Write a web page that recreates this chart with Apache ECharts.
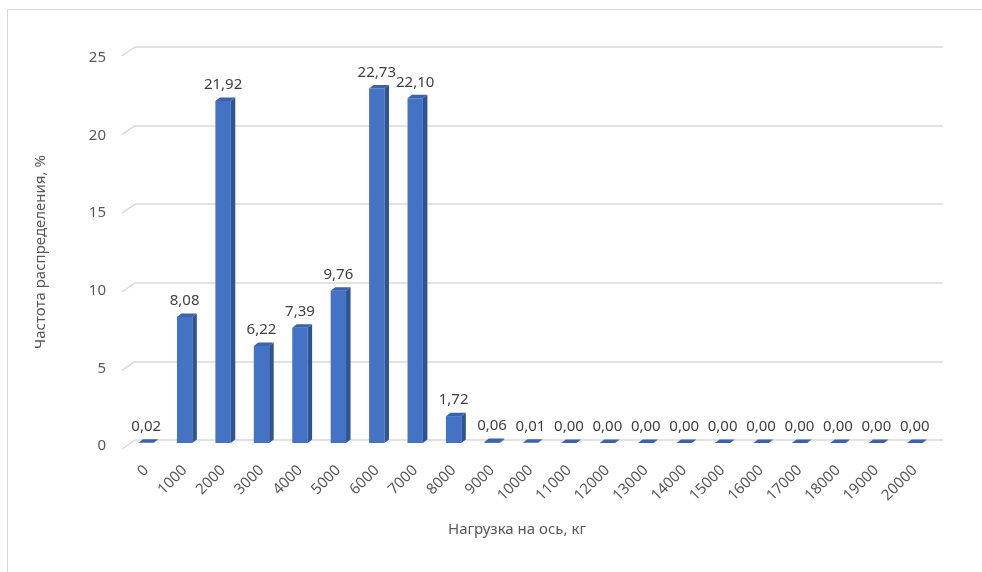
<!DOCTYPE html>
<html>
<head>
<meta charset="utf-8">
<script src="https://cdn.jsdelivr.net/npm/echarts@6/dist/echarts.min.js"></script>
<style>
  html, body { margin: 0; padding: 0; background: #fff; overflow: hidden; }
  #frame { position: absolute; left: 7px; top: 9px; width: 1100px; height: 700px; border: 1px solid #d9d9d9; }
  #chart { position: absolute; left: 0; top: 0; width: 982px; height: 572px; }
</style>
</head>
<body>
<div id="frame"></div>
<div id="chart"></div>
<script>
// нагрузка на ось, кг
const categories = ['0', '1000', '2000', '3000', '4000', '5000', '6000', '7000', '8000', '9000', '10000',
  '11000', '12000', '13000', '14000', '15000', '16000', '17000', '18000', '19000', '20000'];
// частота распределения, %
const shares = [0.02, 8.08, 21.92, 6.22, 7.39, 9.76, 22.73, 22.10, 1.72, 0.06, 0.01,
  0.00, 0.00, 0.00, 0.00, 0.00, 0.00, 0.00, 0.00, 0.00, 0.00];
const yTicks = [0, 5, 10, 15, 20, 25];

const textColor = '#595959';
const font = 'Noto Sans';

function renderBar(params, api) {
  const v = api.value(1);
  const base = api.coord([api.value(0), 0]);
  const top = api.coord([api.value(0), v]);
  const band = api.size([1, 0])[0];
  const w = band * 0.4;
  const x0 = base[0] - w / 2;
  const x1 = base[0] + w / 2;
  const yb = base[1];
  const yt = top[1];
  const dx = 4.5;
  const dy = 3.5;
  const children = [];
  if (yb - yt > 0.5) {
    children.push({
      type: 'rect',
      shape: { x: x0, y: yt, width: w, height: yb - yt },
      style: { fill: '#4472c4' }
    });
    children.push({
      type: 'polygon',
      shape: { points: [[x1, yt], [x1 + dx, yt - dy], [x1 + dx, yb - dy], [x1, yb]] },
      style: { fill: '#2f5393' }
    });
  }
  children.push({
    type: 'polygon',
    shape: { points: [[x0, yt], [x1, yt], [x1 + dx, yt - dy], [x0 + dx, yt - dy]] },
    style: { fill: '#3a62ad' }
  });
  children.push({
    type: 'text',
    style: {
      text: v.toFixed(2).replace('.', ','),
      x: (x0 + x1) / 2,
      y: yt - dy - 5,
      align: 'center',
      verticalAlign: 'bottom',
      fill: '#404040',
      font: '15px "Noto Sans"'
    }
  });
  return { type: 'group', children: children };
}

// короткие косые отрезки слева от линий сетки
function renderStub(params, api) {
  const p = api.coord([0, api.value(1)]);
  const x = params.coordSys.x;
  return {
    type: 'line',
    shape: { x1: x - 13, y1: p[1] + 9, x2: x, y2: p[1] },
    style: { stroke: '#d9d9d9', lineWidth: 1.5 }
  };
}

const chart = echarts.init(document.getElementById('chart'));
chart.setOption({
  animation: false,
  textStyle: { fontFamily: font },
  grid: [
    { left: 127, width: 807, top: 53, height: 390 },
    { left: 135, right: 39, top: 47, height: 393 },
    { left: 122, width: 790, top: 58, height: 388 }
  ],
  xAxis: [
    {
      gridIndex: 0,
      type: 'category',
      data: categories,
      axisLine: { show: false },
      axisTick: { show: false },
      axisLabel: { interval: 0, rotate: 45, margin: 25, color: textColor, fontSize: 15, fontFamily: font }
    },
    { gridIndex: 1, type: 'category', data: categories, show: false },
    {
      gridIndex: 2,
      type: 'category',
      data: categories,
      axisLine: { show: false },
      axisTick: { show: false },
      axisLabel: { show: false },
      name: 'Нагрузка на ось, кг',
      nameLocation: 'middle',
      nameGap: 76,
      nameTextStyle: { color: textColor, fontSize: 15, fontFamily: font }
    }
  ],
  yAxis: [
    { gridIndex: 0, type: 'value', min: 0, max: 25, interval: 5, show: false },
    {
      gridIndex: 1,
      type: 'value',
      min: 0,
      max: 25,
      interval: 5,
      axisLine: { show: false },
      axisTick: { show: false },
      axisLabel: { show: false },
      splitLine: { show: true, lineStyle: { color: '#d9d9d9', width: 1.5 } }
    },
    {
      gridIndex: 2,
      type: 'value',
      min: 0,
      max: 25,
      interval: 5,
      axisLine: { show: false },
      axisTick: { show: false },
      splitLine: { show: false },
      axisLabel: { color: textColor, fontSize: 15, margin: 16, fontFamily: font },
      name: 'Частота распределения, %',
      nameLocation: 'middle',
      nameGap: 74,
      nameRotate: 90,
      nameTextStyle: { color: textColor, fontSize: 15, fontFamily: font }
    }
  ],
  series: [
    {
      type: 'custom',
      xAxisIndex: 1,
      yAxisIndex: 1,
      renderItem: renderStub,
      data: yTicks.map((v) => [0, v]),
      silent: true,
      z: 1
    },
    {
      type: 'custom',
      xAxisIndex: 0,
      yAxisIndex: 0,
      renderItem: renderBar,
      data: shares.map((v, i) => [i, v]),
      z: 3
    }
  ]
});
</script>
</body>
</html>
